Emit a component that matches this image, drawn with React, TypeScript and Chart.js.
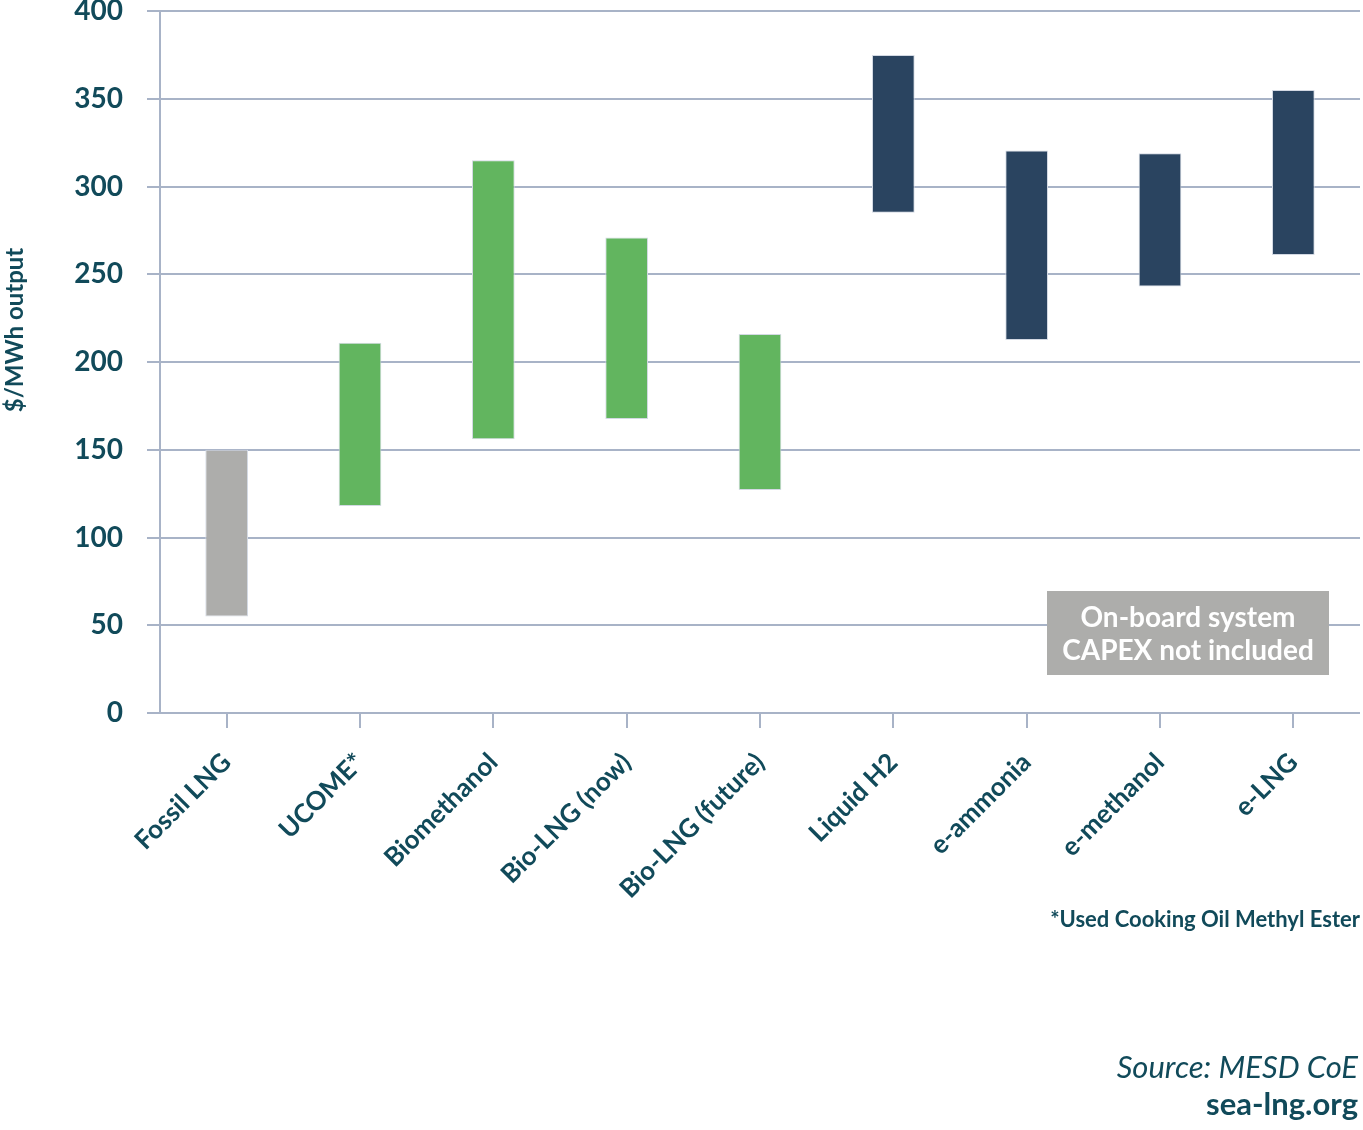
import React, { useEffect, useRef } from "react";
import { Chart, registerables } from "chart.js";

Chart.register(...registerables);

const categories = [
  "Fossil LNG",
  "UCOME*",
  "Biomethanol",
  "Bio-LNG (now)",
  "Bio-LNG (future)",
  "Liquid H2",
  "e-ammonia",
  "e-methanol",
  "e-LNG",
];
const lowValues = [55, 118, 156, 167.5, 127, 285, 212.5, 243, 261];
const highValues = [150, 211, 315, 271, 216, 375, 320.5, 319, 355];
const barColors = [
  "#ADADAB",
  "#62B55F",
  "#62B55F",
  "#62B55F",
  "#62B55F",
  "#2A4460",
  "#2A4460",
  "#2A4460",
  "#2A4460",
];
const yTicks = [0, 50, 100, 150, 200, 250, 300, 350, 400];
const yTitle = "$/MWh output";
const noteLines = ["On-board system", "CAPEX not included"];
const footnote = "*Used Cooking Oil Methyl Ester";
const sourceText = "Source: MESD CoE";
const siteText = "sea-lng.org";

const TEXT = "#114A5A";
const GRID = "#A8B3C7";
const FONT = "Lato, 'Open Sans', sans-serif";

export default function App() {
  const ref = useRef<HTMLCanvasElement | null>(null);

  useEffect(() => {
    if (!ref.current) return;
    const extras = {
      id: "extras",
      afterDraw(chart: any) {
        const ctx = chart.ctx as CanvasRenderingContext2D;
        const area = chart.chartArea;
        const W = chart.width;
        ctx.save();
        // y title
        ctx.fillStyle = TEXT;
        ctx.font = `bold 24px ${FONT}`;
        ctx.translate(15, 330);
        ctx.rotate(-Math.PI / 2);
        ctx.textAlign = "center";
        ctx.textBaseline = "middle";
        ctx.fillText(yTitle, 0, 0);
        ctx.restore();

        // annotation box
        ctx.save();
        const bx = area.right - 313;
        const by = area.bottom - 122;
        const bw = 282;
        const bh = 84;
        ctx.fillStyle = "#ADADAB";
        ctx.fillRect(bx, by, bw, bh);
        ctx.fillStyle = "#FFFFFF";
        ctx.font = `bold 28px ${FONT}`;
        ctx.textAlign = "center";
        ctx.textBaseline = "alphabetic";
        ctx.fillText(noteLines[0], bx + bw / 2, by + 36);
        ctx.fillText(noteLines[1], bx + bw / 2, by + 69);
        ctx.restore();

        // footnote and source
        ctx.save();
        ctx.fillStyle = TEXT;
        ctx.textAlign = "right";
        ctx.textBaseline = "alphabetic";
        ctx.font = `bold 22px ${FONT}`;
        ctx.fillText(footnote, W - 3, 927);
        ctx.font = `italic 31px ${FONT}`;
        ctx.fillText(sourceText, W - 5, 1078);
        ctx.font = `bold 31px ${FONT}`;
        ctx.fillText(siteText, W - 5, 1115);
        ctx.restore();
      },
    };

    const chart = new Chart(ref.current, {
      type: "bar",
      data: {
        labels: categories,
        datasets: [
          {
            data: categories.map((_, i) => [lowValues[i], highValues[i]]) as any,
            backgroundColor: barColors,
            borderColor: "#D3D9E3",
            borderWidth: 1,
            borderSkipped: false,
            barPercentage: 0.32,
            categoryPercentage: 1,
          },
        ],
      },
      options: {
        responsive: false,
        animation: false,
        devicePixelRatio: 1,
        layout: { padding: { top: 11, right: 3, left: 0, bottom: 0 } },
        plugins: {
          legend: { display: false },
          tooltip: { enabled: false },
          title: { display: false },
        },
        scales: {
          x: {
            grid: {
              offset: false,
              drawOnChartArea: false,
              drawTicks: true,
              tickLength: 15,
              color: GRID,
              lineWidth: 2,
            },
            border: { display: false },
            ticks: {
              color: TEXT,
              font: { family: FONT, size: 26, weight: "bold" },
              maxRotation: 45,
              minRotation: 45,
              padding: 19,
              autoSkip: false,
            },
            afterFit: (scale: any) => {
              scale.height = 1130 - 713;
              scale.paddingLeft = 0;
              scale.paddingRight = 0;
            },
          },
          y: {
            min: 0,
            max: 400,
            afterBuildTicks: (scale: any) => {
              scale.ticks = yTicks.map((v) => ({ value: v }));
            },
            grid: {
              color: GRID,
              lineWidth: 2,
              tickLength: 13,
              drawTicks: true,
            },
            border: { display: true, color: GRID, width: 2 },
            ticks: {
              color: TEXT,
              font: { family: FONT, size: 28, weight: "bold" },
              padding: 24,
            },
            afterFit: (scale: any) => {
              scale.width = 160;
              scale.paddingTop = 0;
              scale.paddingBottom = 0;
            },
          },
        },
      },
      plugins: [extras],
    });
    return () => chart.destroy();
  }, []);

  return (
    <div style={{ position: "absolute", left: 0, top: 0, width: 1363, height: 1130, background: "#fff" }}>
      <canvas ref={ref} width={1363} height={1130} style={{ width: 1363, height: 1130, display: "block" }} />
    </div>
  );
}
